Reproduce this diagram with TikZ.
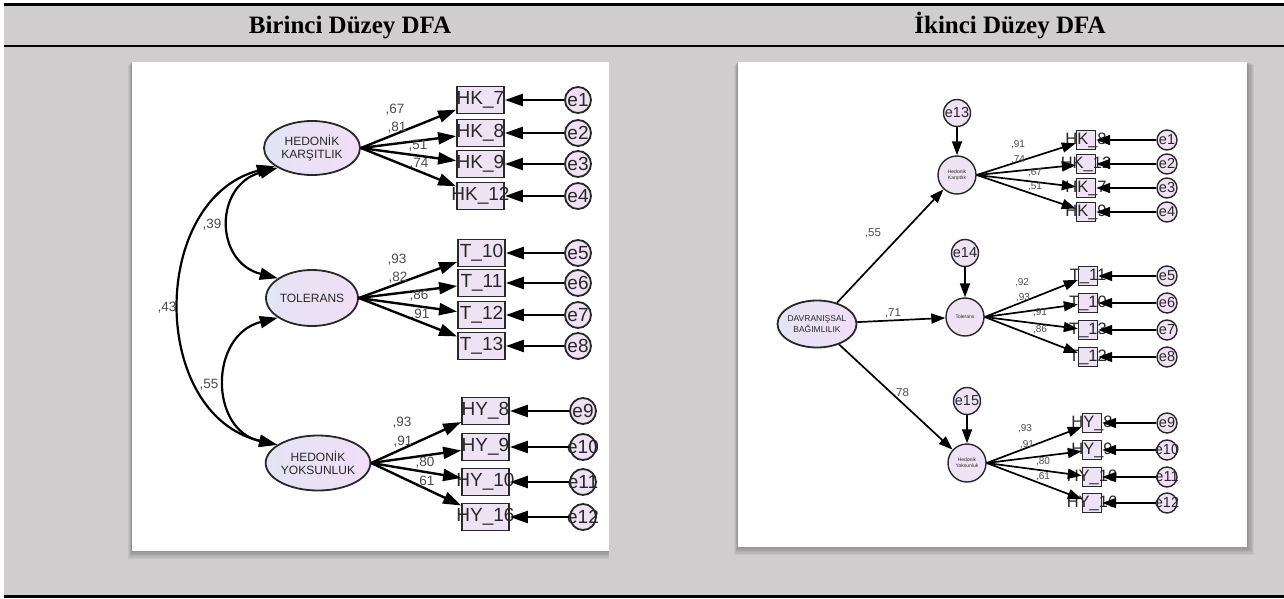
\documentclass[tikz,border=0pt]{standalone}
\usepackage{fontspec}
\setmainfont{Liberation Serif}
\newfontfamily\amos{Liberation Sans}
\usetikzlibrary{arrows.meta,shapes.geometric}
\definecolor{tablegray}{RGB}{207,205,206}
\definecolor{latL}{RGB}{226,228,244}
\definecolor{latR}{RGB}{242,222,246}
\definecolor{obsfill}{RGB}{237,227,245}
\definecolor{errfill}{RGB}{238,226,244}
\definecolor{ink}{RGB}{40,40,40}
\definecolor{coefgray}{RGB}{75,75,75}
\newcommand{\zbox}[1]{\makebox[0pt]{#1}}
\tikzset{
  head/.style={anchor=base, font=\bfseries\fontsize{25}{28}\selectfont},
  latA/.style={ellipse, draw=ink, line width=1.8pt, left color=latL, right color=latR,
    inner sep=0pt, align=center, text=ink, minimum width=96pt, minimum height=54pt,
    font=\amos\fontsize{12}{13.5}\selectfont},
  obsA/.style={draw=ink, line width=1.8pt, fill=obsfill, inner sep=0pt, text=ink,
    minimum width=47pt, minimum height=27pt, font=\amos\fontsize{19}{20}\selectfont},
  errA/.style={circle, draw=ink, line width=1.8pt, fill=errfill, inner sep=0pt, text=ink,
    minimum size=26pt, font=\amos\fontsize{19}{20}\selectfont},
  coefA/.style={text=coefgray, inner sep=0pt, font=\amos\fontsize{13.5}{14}\selectfont},
  tipA/.tip={Triangle[length=18pt,width=12pt]},
  loadA/.style={-tipA, line width=2.4pt, draw=black},
  covA/.style={tipA-tipA, line width=2.2pt, draw=black},
  latB/.style={circle, draw=ink, line width=1.4pt, fill=errfill, inner sep=0pt, align=center,
    text=ink, minimum size=38pt, font=\amos\fontsize{5}{6}\selectfont},
  obsB/.style={draw=ink, line width=1.4pt, fill=obsfill, inner sep=0pt, text=ink,
    minimum size=19pt, font=\amos\fontsize{16.5}{17}\selectfont},
  errB/.style={circle, draw=ink, line width=1.4pt, fill=errfill, inner sep=0pt, text=ink,
    minimum size=20pt, font=\amos\fontsize{14.5}{15}\selectfont},
  coefB/.style={text=coefgray, inner sep=0pt, font=\amos\fontsize{10}{11}\selectfont},
  tipB/.tip={Triangle[length=14pt,width=10pt]},
  loadB/.style={-tipB, line width=1.7pt, draw=black},
}
\begin{document}
\begin{tikzpicture}
[x=1pt,y=-1pt,line width=1pt]
\useasboundingbox (0,0) rectangle (1284,599);
\fill[white] (0,0) rectangle (1284,599);
\fill[tablegray] (4,4) rectangle (1284,597);
\draw[line width=3pt] (4,4.5)--(1284,4.5); %% top rule
\draw[line width=2.5pt] (4,46)--(1284,46); %% head rule
\draw[line width=3pt] (4,596.5)--(1284,596.5); %% bottom rule
\node[head] (headA) at (350,34) {Birinci Düzey DFA};
\node[head] (headB) at (1010,34) {İkinci Düzey DFA};
%% panels with shadow
\foreach \k in {1,...,6}
  \fill[black,opacity=.05] (132-\k*.6,62+\k*.5) rectangle (609,551+\k*1.3);
\fill[white] (132,62) rectangle (609,551);
\foreach \k in {1,...,6}
  \fill[black,opacity=.05] (738-\k*.6,62+\k*.5) rectangle (1247+\k*1.2,547+\k*1.3);
\fill[white] (738,62) rectangle (1247,547);
%%
%% Birinci duzey
\node[latA] (HK)  at (312,148) {HEDONİK\\KARŞITLIK};
\node[latA, minimum width=92pt, minimum height=56pt] (TOL) at (312,298) {TOLERANS};
\node[latA, minimum width=95pt, minimum height=55pt] (HY)  at (318,463) {HEDONİK\\YOKSUNLUK};
\node[coefA] at (212,225) {,39};
\node[coefA] at (167,308) {,43};
\node[coefA] at (209,385) {,55};
\draw[covA] (HK.210) .. controls (214,185) and (214,262) .. (TOL.150); %% ,39
\draw[covA] (HK.206) .. controls (149,200) and (149,415) .. (HY.156); %% ,43
\draw[covA] (TOL.210) .. controls (209,335) and (209,430) .. (HY.156); %% ,55
\foreach \g/\n/\x/\y/\ex/\en/\ld/\lx/\ly in {
  HK/HK\_7/480.5/100/578/1/67/395/110, HK/HK\_8/480.5/133/578/2/81/397/128,
  HK/HK\_9/480.5/164/578/3/51/418/146, HK/HK\_12/480.5/196/578/4/74/419/164,
  TOL/T\_10/481.5/253/578/5/93/397/260, TOL/T\_11/481.5/283/578/6/82/398/278,
  TOL/T\_12/481.5/315/578/7/86/419/296, TOL/T\_13/481.5/346/578/8/91/420/315,
  HY/HY\_8/485.5/411/583/9/93/402/423, HY/HY\_9/485.5/447/583/10/91/403/442,
  HY/HY\_10/485.5/482/583/11/80/425/463, HY/HY\_16/485.5/517/583/12/61/425/482}{
  \node[coefA] at (\lx,\ly) {,\ld};
  \node[obsA] (ao\en) at (\x,\y) {\zbox{\n}};
  \node[errA] (ae\en) at (\ex,\y) {\zbox{e\en}};
  \draw[loadA] (\g.east) -- (ao\en);
  \draw[loadA] (ae\en) -- (ao\en);
}
%%
%% Ikinci duzey
\node[latA, minimum width=79pt, minimum height=47pt, font=\amos\fontsize{8.5}{10.5}\selectfont]
  (DB) at (817,324) {\zbox{DAVRANIŞSAL}\\\zbox{BAĞIMLILIK}};
\node[latB] (HKr)  at (957,175) {\zbox{Hedonik}\\\zbox{Karşıtlık}};
\node[latB] (TOLr) at (965,317) {\zbox{Tolerans}};
\node[latB] (HYr)  at (967,463) {\zbox{Hedonik}\\\zbox{Yoksunluk}};
\node[errB, minimum size=27pt] (e13) at (957,113) {\zbox{e13}};
\node[errB, minimum size=27pt] (e14) at (965,253) {\zbox{e14}};
\node[errB, minimum size=27pt] (e15) at (967,401) {\zbox{e15}};
\draw[loadB] (e13) -- (HKr);
\draw[loadB] (e14) -- (TOLr);
\draw[loadB] (e15) -- (HYr);
\node[coefB, font=\amos\fontsize{11.5}{12}\selectfont] at (873,233) {,55};
\node[coefB, font=\amos\fontsize{11.5}{12}\selectfont] at (893,313) {,71};
\node[coefB, font=\amos\fontsize{11.5}{12}\selectfont] at (901,393) {,78};
\draw[loadB] (DB) -- (HKr);
\draw[loadB] (DB) -- (TOLr);
\draw[loadB] (DB) -- (HYr);
\foreach \g/\n/\x/\y/\en/\ld/\lx/\ly in {
  HKr/HK\_8/1086/140/1/91/1018/145, HKr/HK\_12/1086/164/2/74/1018/160,
  HKr/HK\_7/1086/188/3/67/1035/173, HKr/HK\_9/1086/212/4/51/1035/187,
  TOLr/T\_11/1088/276/5/92/1022/283, TOLr/T\_10/1088/303/6/93/1023/298,
  TOLr/T\_13/1088/330/7/91/1040/313, TOLr/T\_12/1088/357/8/86/1040/330,
  HYr/HY\_8/1092/423/9/93/1025/429, HYr/HY\_9/1092/450/10/91/1027/445,
  HYr/HY\_10/1092/477/11/80/1043/462, HYr/HY\_16/1092/503/12/61/1043/477}{
  \node[coefB] at (\lx,\ly) {,\ld};
  \node[obsB] (bo\en) at (\x,\y) {\zbox{\n}};
  \node[errB] (be\en) at (1167,\y) {\zbox{e\en}};
  \draw[loadB] (\g.east) -- (bo\en);
  \draw[loadB] (be\en) -- (bo\en);
}
\end{tikzpicture}
\end{document}
